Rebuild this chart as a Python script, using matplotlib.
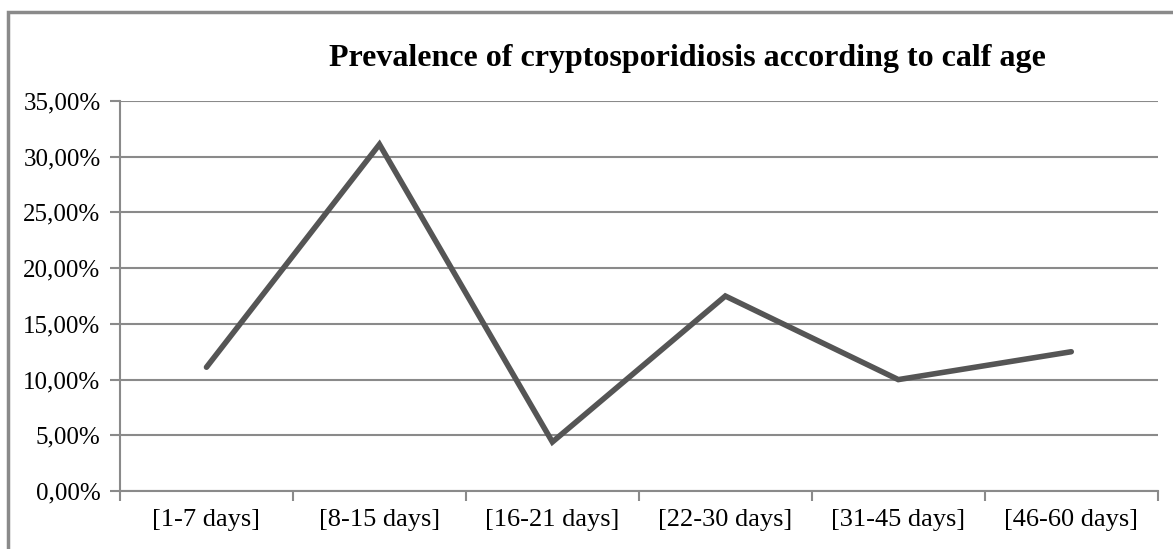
import matplotlib.pyplot as plt
import matplotlib.patches as patches
import numpy as np

# Datos del grafico
categorias = ['[1-7 days]', '[8-15 days]', '[16-21 days]', '[22-30 days]',
              '[31-45 days]', '[46-60 days]']
prevalencia = [11.11, 31.11, 4.40, 17.50, 10.00, 12.50]
ticks_y = [0, 5, 10, 15, 20, 25, 30, 35]
etiquetas_y = ['0,00%', '5,00%', '10,00%', '15,00%', '20,00%', '25,00%',
               '30,00%', '35,00%']
titulo = 'Prevalence of cryptosporidiosis according to calf age'

plt.rcParams['font.family'] = ['Liberation Serif', 'DejaVu Serif']

fig = plt.figure(figsize=(11.73, 5.49), dpi=100)
ax = fig.add_axes([0.1023, 0.1056, 0.8847, 0.7104])

gris = '#8a8a8a'
x = np.arange(len(categorias))

ax.set_ylim(0, 35)
ax.set_xlim(-0.5, len(categorias) - 0.5)
ax.set_yticks(ticks_y)
ax.set_yticklabels(etiquetas_y)
ax.yaxis.grid(True, color=gris, linewidth=1.5)
ax.set_axisbelow(True)

ax.plot(x, prevalencia, color='#555555', linewidth=4, solid_capstyle='round',
        solid_joinstyle='miter', zorder=3)

# Etiquetas en el centro, marcas en los limites de cada categoria
ax.set_xticks(x)
ax.set_xticklabels(categorias)
ax.set_xticks(np.arange(len(categorias) + 1) - 0.5, minor=True)
ax.tick_params(axis='x', which='major', length=0, pad=13, labelsize=19)
ax.tick_params(axis='x', which='minor', length=7, width=1.5, color=gris,
               direction='out')
ax.tick_params(axis='y', length=7, width=1.5, color=gris, pad=7, labelsize=18)

for lado in ['top', 'right']:
    ax.spines[lado].set_visible(False)
for lado in ['left', 'bottom']:
    ax.spines[lado].set_color(gris)
    ax.spines[lado].set_linewidth(1.5)

fig.text(0.586, 0.893, titulo, ha='center', va='center', fontsize=23,
         fontweight='bold')

# Marco exterior del grafico
marco = patches.Rectangle((0.0068, -0.1), 1.1, 1.078, transform=fig.transFigure,
                          fill=False, edgecolor=gris, linewidth=2.5)
fig.patches.append(marco)

plt.savefig('out.png', dpi=100)
plt.close()
